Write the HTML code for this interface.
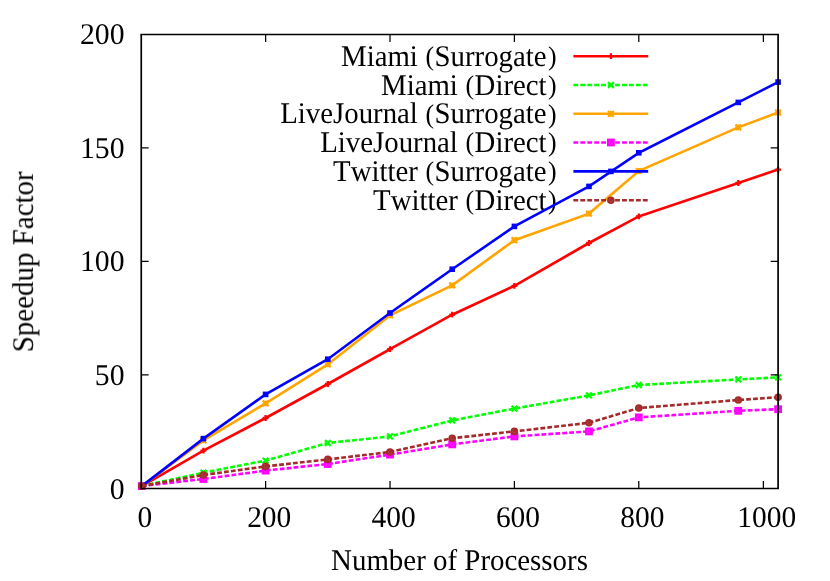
<!DOCTYPE html>
<html><head><meta charset="utf-8"><title>Speedup</title>
<style>
html,body{margin:0;padding:0;background:#fff;}
svg{display:block;}
text{font-family:"Liberation Serif",serif;font-size:30px;fill:#000;font-kerning:none;font-variant-ligatures:none;text-rendering:geometricPrecision;}
</style></head><body>
<svg width="830" height="581" viewBox="0 0 830 581">
<rect x="0" y="0" width="830" height="581" fill="#fff"/>
<g opacity="0.999">

<text transform="translate(124.5 498.75) scale(0.99 1)" text-anchor="end">0</text>
<text transform="translate(124.5 385.10) scale(0.99 1)" text-anchor="end">50</text>
<text transform="translate(124.5 271.45) scale(0.99 1)" text-anchor="end">100</text>
<text transform="translate(124.5 157.80) scale(0.99 1)" text-anchor="end">150</text>
<text transform="translate(124.5 44.15) scale(0.99 1)" text-anchor="end">200</text>
<text transform="translate(144.80 527.35) scale(0.98 1)" text-anchor="middle">0</text>
<text transform="translate(269.18 527.35) scale(0.98 1)" text-anchor="middle">200</text>
<text transform="translate(393.57 527.35) scale(0.98 1)" text-anchor="middle">400</text>
<text transform="translate(517.95 527.35) scale(0.98 1)" text-anchor="middle">600</text>
<text transform="translate(642.34 527.35) scale(0.98 1)" text-anchor="middle">800</text>
<text transform="translate(766.72 527.35) scale(0.98 1)" text-anchor="middle">1000</text>
<text transform="translate(459.5 570.3) scale(0.9635 1)" text-anchor="middle">Number of Processors</text>
<text transform="translate(32.9 261.8) rotate(-90) scale(0.965 1)" text-anchor="middle">Speedup Factor</text>
<text transform="translate(556.51 65.85) scale(0.96 1)" text-anchor="end">Miami <tspan font-size="26.9" dy="-0.85" dx="0.5">(</tspan><tspan dy="0.85" dx="0.5">Surrogate</tspan><tspan font-size="26.9" dy="-0.85" dx="1.4">)</tspan></text>
<text transform="translate(556.51 94.65) scale(0.96 1)" text-anchor="end">Miami <tspan font-size="26.9" dy="-0.85" dx="0.5">(</tspan><tspan dy="0.85" dx="0.5">Direct</tspan><tspan font-size="26.9" dy="-0.85" dx="1.4">)</tspan></text>
<text transform="translate(556.51 123.45) scale(0.96 1)" text-anchor="end">LiveJournal <tspan font-size="26.9" dy="-0.85" dx="0.5">(</tspan><tspan dy="0.85" dx="0.5">Surrogate</tspan><tspan font-size="26.9" dy="-0.85" dx="1.4">)</tspan></text>
<text transform="translate(556.51 152.25) scale(0.96 1)" text-anchor="end">LiveJournal <tspan font-size="26.9" dy="-0.85" dx="0.5">(</tspan><tspan dy="0.85" dx="0.5">Direct</tspan><tspan font-size="26.9" dy="-0.85" dx="1.4">)</tspan></text>
<text transform="translate(556.51 181.05) scale(0.96 1)" text-anchor="end">Twitter <tspan font-size="26.9" dy="-0.85" dx="0.5">(</tspan><tspan dy="0.85" dx="0.5">Surrogate</tspan><tspan font-size="26.9" dy="-0.85" dx="1.4">)</tspan></text>
<text transform="translate(556.51 209.85) scale(0.96 1)" text-anchor="end">Twitter <tspan font-size="26.9" dy="-0.85" dx="0.5">(</tspan><tspan dy="0.85" dx="0.5">Direct</tspan><tspan font-size="26.9" dy="-0.85" dx="1.4">)</tspan></text>
<path d="M573.4 56.2H648.2" stroke="#ff0000" stroke-width="2.6" fill="none"/>
<path d="M608.00 56.20H613.80M610.90 53.30V59.10" stroke="#ff0000" stroke-width="2.3" fill="none"/>
<polyline points="141.8,486.1 203.4,450.6 265.6,418.0 327.8,384.0 390.0,349.2 452.2,314.7 514.4,285.8 589.0,243.0 638.8,216.4 738.3,183.0 778.1,169.6" stroke="#ff0000" stroke-width="2.6" fill="none" stroke-linejoin="miter"/>
<path d="M138.90 486.10H144.70M141.80 483.20V489.00" stroke="#ff0000" stroke-width="2.3" fill="none"/>
<path d="M200.50 450.60H206.30M203.40 447.70V453.50" stroke="#ff0000" stroke-width="2.3" fill="none"/>
<path d="M262.70 418.00H268.50M265.60 415.10V420.90" stroke="#ff0000" stroke-width="2.3" fill="none"/>
<path d="M324.90 384.00H330.70M327.80 381.10V386.90" stroke="#ff0000" stroke-width="2.3" fill="none"/>
<path d="M387.10 349.20H392.90M390.00 346.30V352.10" stroke="#ff0000" stroke-width="2.3" fill="none"/>
<path d="M449.30 314.70H455.10M452.20 311.80V317.60" stroke="#ff0000" stroke-width="2.3" fill="none"/>
<path d="M511.50 285.80H517.30M514.40 282.90V288.70" stroke="#ff0000" stroke-width="2.3" fill="none"/>
<path d="M586.10 243.00H591.90M589.00 240.10V245.90" stroke="#ff0000" stroke-width="2.3" fill="none"/>
<path d="M635.90 216.40H641.70M638.80 213.50V219.30" stroke="#ff0000" stroke-width="2.3" fill="none"/>
<path d="M735.40 183.00H741.20M738.30 180.10V185.90" stroke="#ff0000" stroke-width="2.3" fill="none"/>
<path d="M775.20 169.60H781.00M778.10 166.70V172.50" stroke="#ff0000" stroke-width="2.3" fill="none"/>
<path d="M573.4 85.0H648.2" stroke="#00ff00" stroke-width="2.6" fill="none" stroke-dasharray="4.8 2.15"/>
<path d="M608.05 82.15L613.75 87.85M608.05 87.85L613.75 82.15" stroke="#00ff00" stroke-width="2.3" fill="none"/>
<polyline points="141.8,486.1 203.4,472.6 265.6,460.6 327.8,443.0 390.0,436.4 452.2,420.4 514.4,408.6 589.0,395.4 638.8,385.0 738.3,379.4 778.1,377.4" stroke="#00ff00" stroke-width="2.6" fill="none" stroke-linejoin="miter" stroke-dasharray="4.8 2.15"/>
<path d="M138.95 483.25L144.65 488.95M138.95 488.95L144.65 483.25" stroke="#00ff00" stroke-width="2.3" fill="none"/>
<path d="M200.55 469.75L206.25 475.45M200.55 475.45L206.25 469.75" stroke="#00ff00" stroke-width="2.3" fill="none"/>
<path d="M262.75 457.75L268.45 463.45M262.75 463.45L268.45 457.75" stroke="#00ff00" stroke-width="2.3" fill="none"/>
<path d="M324.95 440.15L330.65 445.85M324.95 445.85L330.65 440.15" stroke="#00ff00" stroke-width="2.3" fill="none"/>
<path d="M387.15 433.55L392.85 439.25M387.15 439.25L392.85 433.55" stroke="#00ff00" stroke-width="2.3" fill="none"/>
<path d="M449.35 417.55L455.05 423.25M449.35 423.25L455.05 417.55" stroke="#00ff00" stroke-width="2.3" fill="none"/>
<path d="M511.55 405.75L517.25 411.45M511.55 411.45L517.25 405.75" stroke="#00ff00" stroke-width="2.3" fill="none"/>
<path d="M586.15 392.55L591.85 398.25M586.15 398.25L591.85 392.55" stroke="#00ff00" stroke-width="2.3" fill="none"/>
<path d="M635.95 382.15L641.65 387.85M635.95 387.85L641.65 382.15" stroke="#00ff00" stroke-width="2.3" fill="none"/>
<path d="M735.45 376.55L741.15 382.25M735.45 382.25L741.15 376.55" stroke="#00ff00" stroke-width="2.3" fill="none"/>
<path d="M775.25 374.55L780.95 380.25M775.25 380.25L780.95 374.55" stroke="#00ff00" stroke-width="2.3" fill="none"/>
<path d="M573.4 113.8H648.2" stroke="#ffa500" stroke-width="2.6" fill="none"/>
<path d="M608.00 110.90L613.80 116.70M608.00 116.70L613.80 110.90M608.00 113.80H613.80M610.90 110.90V116.70" stroke="#ffa500" stroke-width="2.0" fill="none"/>
<polyline points="141.8,486.1 203.4,440.4 265.6,403.4 327.8,364.4 390.0,315.4 452.2,285.4 514.4,240.2 589.0,213.6 638.8,171.0 738.3,127.4 778.1,112.5" stroke="#ffa500" stroke-width="2.6" fill="none" stroke-linejoin="miter"/>
<path d="M138.90 483.20L144.70 489.00M138.90 489.00L144.70 483.20M138.90 486.10H144.70M141.80 483.20V489.00" stroke="#ffa500" stroke-width="2.0" fill="none"/>
<path d="M200.50 437.50L206.30 443.30M200.50 443.30L206.30 437.50M200.50 440.40H206.30M203.40 437.50V443.30" stroke="#ffa500" stroke-width="2.0" fill="none"/>
<path d="M262.70 400.50L268.50 406.30M262.70 406.30L268.50 400.50M262.70 403.40H268.50M265.60 400.50V406.30" stroke="#ffa500" stroke-width="2.0" fill="none"/>
<path d="M324.90 361.50L330.70 367.30M324.90 367.30L330.70 361.50M324.90 364.40H330.70M327.80 361.50V367.30" stroke="#ffa500" stroke-width="2.0" fill="none"/>
<path d="M387.10 312.50L392.90 318.30M387.10 318.30L392.90 312.50M387.10 315.40H392.90M390.00 312.50V318.30" stroke="#ffa500" stroke-width="2.0" fill="none"/>
<path d="M449.30 282.50L455.10 288.30M449.30 288.30L455.10 282.50M449.30 285.40H455.10M452.20 282.50V288.30" stroke="#ffa500" stroke-width="2.0" fill="none"/>
<path d="M511.50 237.30L517.30 243.10M511.50 243.10L517.30 237.30M511.50 240.20H517.30M514.40 237.30V243.10" stroke="#ffa500" stroke-width="2.0" fill="none"/>
<path d="M586.10 210.70L591.90 216.50M586.10 216.50L591.90 210.70M586.10 213.60H591.90M589.00 210.70V216.50" stroke="#ffa500" stroke-width="2.0" fill="none"/>
<path d="M635.90 168.10L641.70 173.90M635.90 173.90L641.70 168.10M635.90 171.00H641.70M638.80 168.10V173.90" stroke="#ffa500" stroke-width="2.0" fill="none"/>
<path d="M735.40 124.50L741.20 130.30M735.40 130.30L741.20 124.50M735.40 127.40H741.20M738.30 124.50V130.30" stroke="#ffa500" stroke-width="2.0" fill="none"/>
<path d="M775.20 109.60L781.00 115.40M775.20 115.40L781.00 109.60M775.20 112.50H781.00M778.10 109.60V115.40" stroke="#ffa500" stroke-width="2.0" fill="none"/>
<path d="M573.4 142.5H648.2" stroke="#ff00ff" stroke-width="2.6" fill="none" stroke-dasharray="4.8 2.15"/>
<rect x="607.00" y="138.60" width="7.8" height="7.8" fill="#ff00ff"/><circle cx="610.90" cy="142.50" r="1.7" fill="none" stroke="#fff" stroke-opacity="0.22" stroke-width="0.6" stroke-dasharray="7 3.7"/>
<polyline points="141.8,486.1 203.4,479.0 265.6,470.6 327.8,464.0 390.0,454.6 452.2,444.4 514.4,436.4 589.0,431.4 638.8,417.4 738.3,410.8 778.1,409.2" stroke="#ff00ff" stroke-width="2.6" fill="none" stroke-linejoin="miter" stroke-dasharray="4.8 2.15"/>
<rect x="137.90" y="482.20" width="7.8" height="7.8" fill="#ff00ff"/><circle cx="141.80" cy="486.10" r="1.7" fill="none" stroke="#fff" stroke-opacity="0.22" stroke-width="0.6" stroke-dasharray="7 3.7"/>
<rect x="199.50" y="475.10" width="7.8" height="7.8" fill="#ff00ff"/><circle cx="203.40" cy="479.00" r="1.7" fill="none" stroke="#fff" stroke-opacity="0.22" stroke-width="0.6" stroke-dasharray="7 3.7"/>
<rect x="261.70" y="466.70" width="7.8" height="7.8" fill="#ff00ff"/><circle cx="265.60" cy="470.60" r="1.7" fill="none" stroke="#fff" stroke-opacity="0.22" stroke-width="0.6" stroke-dasharray="7 3.7"/>
<rect x="323.90" y="460.10" width="7.8" height="7.8" fill="#ff00ff"/><circle cx="327.80" cy="464.00" r="1.7" fill="none" stroke="#fff" stroke-opacity="0.22" stroke-width="0.6" stroke-dasharray="7 3.7"/>
<rect x="386.10" y="450.70" width="7.8" height="7.8" fill="#ff00ff"/><circle cx="390.00" cy="454.60" r="1.7" fill="none" stroke="#fff" stroke-opacity="0.22" stroke-width="0.6" stroke-dasharray="7 3.7"/>
<rect x="448.30" y="440.50" width="7.8" height="7.8" fill="#ff00ff"/><circle cx="452.20" cy="444.40" r="1.7" fill="none" stroke="#fff" stroke-opacity="0.22" stroke-width="0.6" stroke-dasharray="7 3.7"/>
<rect x="510.50" y="432.50" width="7.8" height="7.8" fill="#ff00ff"/><circle cx="514.40" cy="436.40" r="1.7" fill="none" stroke="#fff" stroke-opacity="0.22" stroke-width="0.6" stroke-dasharray="7 3.7"/>
<rect x="585.10" y="427.50" width="7.8" height="7.8" fill="#ff00ff"/><circle cx="589.00" cy="431.40" r="1.7" fill="none" stroke="#fff" stroke-opacity="0.22" stroke-width="0.6" stroke-dasharray="7 3.7"/>
<rect x="634.90" y="413.50" width="7.8" height="7.8" fill="#ff00ff"/><circle cx="638.80" cy="417.40" r="1.7" fill="none" stroke="#fff" stroke-opacity="0.22" stroke-width="0.6" stroke-dasharray="7 3.7"/>
<rect x="734.40" y="406.90" width="7.8" height="7.8" fill="#ff00ff"/><circle cx="738.30" cy="410.80" r="1.7" fill="none" stroke="#fff" stroke-opacity="0.22" stroke-width="0.6" stroke-dasharray="7 3.7"/>
<rect x="774.20" y="405.30" width="7.8" height="7.8" fill="#ff00ff"/><circle cx="778.10" cy="409.20" r="1.7" fill="none" stroke="#fff" stroke-opacity="0.22" stroke-width="0.6" stroke-dasharray="7 3.7"/>
<path d="M573.4 171.4H648.2" stroke="#0000ff" stroke-width="2.6" fill="none"/>
<rect x="608.10" y="168.60" width="5.6" height="5.6" fill="#0000ff"/>
<polyline points="141.8,486.1 203.4,438.6 265.6,394.4 327.8,359.2 390.0,313.0 452.2,269.2 514.4,226.4 589.0,186.4 638.8,152.8 738.3,102.4 778.1,82.1" stroke="#0000ff" stroke-width="2.6" fill="none" stroke-linejoin="miter"/>
<rect x="139.00" y="483.30" width="5.6" height="5.6" fill="#0000ff"/>
<rect x="200.60" y="435.80" width="5.6" height="5.6" fill="#0000ff"/>
<rect x="262.80" y="391.60" width="5.6" height="5.6" fill="#0000ff"/>
<rect x="325.00" y="356.40" width="5.6" height="5.6" fill="#0000ff"/>
<rect x="387.20" y="310.20" width="5.6" height="5.6" fill="#0000ff"/>
<rect x="449.40" y="266.40" width="5.6" height="5.6" fill="#0000ff"/>
<rect x="511.60" y="223.60" width="5.6" height="5.6" fill="#0000ff"/>
<rect x="586.20" y="183.60" width="5.6" height="5.6" fill="#0000ff"/>
<rect x="636.00" y="150.00" width="5.6" height="5.6" fill="#0000ff"/>
<rect x="735.50" y="99.60" width="5.6" height="5.6" fill="#0000ff"/>
<rect x="775.30" y="79.30" width="5.6" height="5.6" fill="#0000ff"/>
<path d="M573.4 200.2H648.2" stroke="#a52a2a" stroke-width="2.6" fill="none" stroke-dasharray="4.8 2.15"/>
<circle cx="610.90" cy="200.20" r="3.8" fill="#a52a2a"/><circle cx="610.90" cy="200.20" r="1.7" fill="none" stroke="#fff" stroke-opacity="0.18" stroke-width="0.6" stroke-dasharray="7 3.7"/>
<polyline points="141.8,486.1 203.4,475.0 265.6,466.4 327.8,459.4 390.0,452.0 452.2,438.2 514.4,431.4 589.0,422.8 638.8,408.0 738.3,400.0 778.1,397.2" stroke="#a52a2a" stroke-width="2.6" fill="none" stroke-linejoin="miter" stroke-dasharray="4.8 2.15"/>
<circle cx="141.80" cy="486.10" r="3.8" fill="#a52a2a"/><circle cx="141.80" cy="486.10" r="1.7" fill="none" stroke="#fff" stroke-opacity="0.18" stroke-width="0.6" stroke-dasharray="7 3.7"/>
<circle cx="203.40" cy="475.00" r="3.8" fill="#a52a2a"/><circle cx="203.40" cy="475.00" r="1.7" fill="none" stroke="#fff" stroke-opacity="0.18" stroke-width="0.6" stroke-dasharray="7 3.7"/>
<circle cx="265.60" cy="466.40" r="3.8" fill="#a52a2a"/><circle cx="265.60" cy="466.40" r="1.7" fill="none" stroke="#fff" stroke-opacity="0.18" stroke-width="0.6" stroke-dasharray="7 3.7"/>
<circle cx="327.80" cy="459.40" r="3.8" fill="#a52a2a"/><circle cx="327.80" cy="459.40" r="1.7" fill="none" stroke="#fff" stroke-opacity="0.18" stroke-width="0.6" stroke-dasharray="7 3.7"/>
<circle cx="390.00" cy="452.00" r="3.8" fill="#a52a2a"/><circle cx="390.00" cy="452.00" r="1.7" fill="none" stroke="#fff" stroke-opacity="0.18" stroke-width="0.6" stroke-dasharray="7 3.7"/>
<circle cx="452.20" cy="438.20" r="3.8" fill="#a52a2a"/><circle cx="452.20" cy="438.20" r="1.7" fill="none" stroke="#fff" stroke-opacity="0.18" stroke-width="0.6" stroke-dasharray="7 3.7"/>
<circle cx="514.40" cy="431.40" r="3.8" fill="#a52a2a"/><circle cx="514.40" cy="431.40" r="1.7" fill="none" stroke="#fff" stroke-opacity="0.18" stroke-width="0.6" stroke-dasharray="7 3.7"/>
<circle cx="589.00" cy="422.80" r="3.8" fill="#a52a2a"/><circle cx="589.00" cy="422.80" r="1.7" fill="none" stroke="#fff" stroke-opacity="0.18" stroke-width="0.6" stroke-dasharray="7 3.7"/>
<circle cx="638.80" cy="408.00" r="3.8" fill="#a52a2a"/><circle cx="638.80" cy="408.00" r="1.7" fill="none" stroke="#fff" stroke-opacity="0.18" stroke-width="0.6" stroke-dasharray="7 3.7"/>
<circle cx="738.30" cy="400.00" r="3.8" fill="#a52a2a"/><circle cx="738.30" cy="400.00" r="1.7" fill="none" stroke="#fff" stroke-opacity="0.18" stroke-width="0.6" stroke-dasharray="7 3.7"/>
<circle cx="778.10" cy="397.20" r="3.8" fill="#a52a2a"/><circle cx="778.10" cy="397.20" r="1.7" fill="none" stroke="#fff" stroke-opacity="0.18" stroke-width="0.6" stroke-dasharray="7 3.7"/>
<path d="M141.25 374.92h7.4M778.1 374.92h-7.4M141.25 261.45h7.4M778.1 261.45h-7.4M141.25 147.97h7.4M778.1 147.97h-7.4M265.63 488.4v-7.4M265.63 34.5v7.4M390.02 488.4v-7.4M390.02 34.5v7.4M514.40 488.4v-7.4M514.40 34.5v7.4M638.79 488.4v-7.4M638.79 34.5v7.4M763.37 488.4v-7.4M763.37 34.5v7.4" stroke="#000" stroke-width="1.25" fill="none"/>
<path d="M140.4 34.5H778.95M140.4 488.4H778.95" stroke="#000" stroke-width="1.5" fill="none"/>
<path d="M141.25 34.5V488.4M778.1 34.5V488.4" stroke="#000" stroke-width="1.7" fill="none"/>
</g>
</svg>
</body></html>
